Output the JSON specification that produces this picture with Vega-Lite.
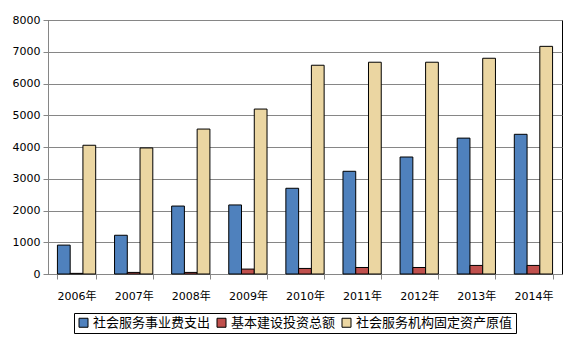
{
  "$schema": "https://vega.github.io/schema/vega-lite/v6.json",
  "width": 514,
  "height": 254,
  "autosize": {"type": "none"},
  "padding": {"left": 48, "top": 20, "right": 16, "bottom": 77},
  "background": "white",
  "data": {
    "values": [
      {"year": "2006年", "series": "社会服务事业费支出", "value": 910},
      {"year": "2006年", "series": "基本建设投资总额", "value": 20},
      {"year": "2006年", "series": "社会服务机构固定资产原值", "value": 4055},
      {"year": "2007年", "series": "社会服务事业费支出", "value": 1220},
      {"year": "2007年", "series": "基本建设投资总额", "value": 50},
      {"year": "2007年", "series": "社会服务机构固定资产原值", "value": 3970},
      {"year": "2008年", "series": "社会服务事业费支出", "value": 2140},
      {"year": "2008年", "series": "基本建设投资总额", "value": 50},
      {"year": "2008年", "series": "社会服务机构固定资产原值", "value": 4565},
      {"year": "2009年", "series": "社会服务事业费支出", "value": 2175},
      {"year": "2009年", "series": "基本建设投资总额", "value": 155},
      {"year": "2009年", "series": "社会服务机构固定资产原值", "value": 5195},
      {"year": "2010年", "series": "社会服务事业费支出", "value": 2700},
      {"year": "2010年", "series": "基本建设投资总额", "value": 175},
      {"year": "2010年", "series": "社会服务机构固定资产原值", "value": 6575},
      {"year": "2011年", "series": "社会服务事业费支出", "value": 3235},
      {"year": "2011年", "series": "基本建设投资总额", "value": 205},
      {"year": "2011年", "series": "社会服务机构固定资产原值", "value": 6670},
      {"year": "2012年", "series": "社会服务事业费支出", "value": 3685},
      {"year": "2012年", "series": "基本建设投资总额", "value": 205},
      {"year": "2012年", "series": "社会服务机构固定资产原值", "value": 6670},
      {"year": "2013年", "series": "社会服务事业费支出", "value": 4280},
      {"year": "2013年", "series": "基本建设投资总额", "value": 270},
      {"year": "2013年", "series": "社会服务机构固定资产原值", "value": 6795},
      {"year": "2014年", "series": "社会服务事业费支出", "value": 4400},
      {"year": "2014年", "series": "基本建设投资总额", "value": 270},
      {"year": "2014年", "series": "社会服务机构固定资产原值", "value": 7170}
    ]
  },
  "mark": {"type": "bar", "stroke": "#000000", "strokeWidth": 1},
  "encoding": {
    "x": {
      "field": "year",
      "type": "nominal",
      "sort": null,
      "scale": {"paddingInner": 0.33, "paddingOuter": 0.165},
      "axis": {
        "title": null,
        "labelAngle": 0,
        "tickBand": "extent",
        "domainColor": "#868686",
        "tickColor": "#868686",
        "tickSize": 5,
        "labelPadding": 11,
        "labelFont": "DejaVu Sans, Noto Sans CJK SC",
        "labelFontSize": 11,
        "labelColor": "#000000",
        "grid": false
      }
    },
    "xOffset": {
      "field": "series",
      "type": "nominal",
      "sort": ["社会服务事业费支出", "基本建设投资总额", "社会服务机构固定资产原值"]
    },
    "y": {
      "field": "value",
      "type": "quantitative",
      "scale": {"domain": [0, 8000], "nice": false},
      "axis": {
        "title": null,
        "values": [0, 1000, 2000, 3000, 4000, 5000, 6000, 7000, 8000],
        "format": "d",
        "grid": true,
        "gridColor": "#868686",
        "gridOpacity": 1,
        "domainColor": "#868686",
        "tickColor": "#868686",
        "tickSize": 5,
        "labelPadding": 3,
        "labelFont": "DejaVu Sans",
        "labelFontSize": 11,
        "labelColor": "#000000"
      }
    },
    "color": {
      "field": "series",
      "type": "nominal",
      "sort": ["社会服务事业费支出", "基本建设投资总额", "社会服务机构固定资产原值"],
      "scale": {
        "domain": ["社会服务事业费支出", "基本建设投资总额", "社会服务机构固定资产原值"],
        "range": ["#4F81BD", "#C0504D", "#EBD6A2"]
      },
      "legend": {
        "title": null,
        "orient": "none",
        "direction": "horizontal",
        "legendX": 26,
        "legendY": 293,
        "strokeColor": "#000000",
        "padding": 3,
        "symbolType": "square",
        "symbolSize": 81,
        "symbolStrokeColor": "#000000",
        "symbolStrokeWidth": 1,
        "symbolOpacity": 1,
        "labelFont": "Noto Sans CJK SC",
        "labelFontSize": 13,
        "labelColor": "#000000",
        "labelOffset": 3,
        "columnPadding": 4,
        "labelLimit": 300
      }
    }
  },
  "config": {
    "view": {"stroke": "#000000", "strokeWidth": 1},
    "axis": {"domainWidth": 1, "tickWidth": 1, "gridWidth": 1}
  }
}
